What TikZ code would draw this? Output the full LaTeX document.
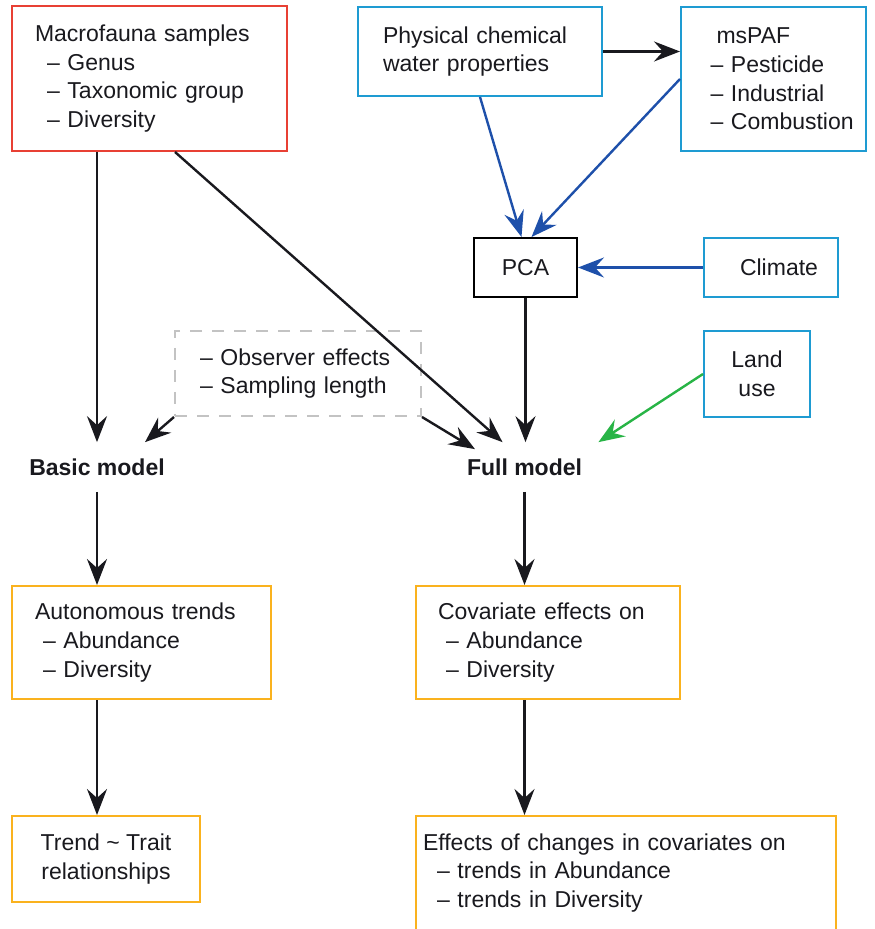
\documentclass[tikz,border=0pt]{standalone}
\usepackage{fontspec}
\setmainfont{Liberation Sans}
\usetikzlibrary{arrows.meta}

\definecolor{boxred}{RGB}{232,64,52}
\definecolor{boxblue}{RGB}{30,155,210}
\definecolor{arrowblue}{RGB}{30,80,170}
\definecolor{boxorange}{RGB}{250,178,30}
\definecolor{arrowgreen}{RGB}{40,180,70}
\definecolor{dashgray}{RGB}{195,195,195}
\definecolor{inkgray}{RGB}{25,25,30}

\newcommand{\dashitem}{\hspace*{6pt}-- }
\newcommand{\pafitem}{\hspace*{9.5pt}}

\tikzset{
	box/.style={draw, line width=1pt, align=left, inner sep=0pt, text=inkgray,
		font=\fontsize{11.5}{14.3}\selectfont},
	model/.style={inner sep=8pt, text=inkgray, font=\fontsize{11.5}{14.3}\selectfont\bfseries},
	flow/.style={->, line width=1.2pt, draw=inkgray},
}

\begin{document}
\begin{tikzpicture}[x=0.5pt, y=-0.5pt, >={Stealth[length=13pt, width=10pt, inset=4.5pt]}]
	\useasboundingbox (0,0) rectangle (874,929);
	
	% Eingangsdaten
	\node[box, draw=boxred, text width=114.5pt, inner xsep=11.5pt, minimum height=72.5pt] (macro) at (149.5,78.5)
		{Macrofauna samples\\ \dashitem Genus\\ \dashitem Taxonomic group\\ \dashitem Diversity};
	\node[box, draw=boxblue, text width=97pt, inner xsep=12.5pt, minimum height=44.5pt] (phys) at (480,51.5)
		{Physical chemical\\water properties};
	\node[box, draw=boxblue, text width=82pt, minimum width=92.5pt, minimum height=72pt] (mspaf) at (773.5,79)
		{\pafitem\hspace*{3pt}msPAF\\ \pafitem-- Pesticide\\ \pafitem-- Industrial\\ \pafitem-- Combustion};
	\node[box, draw=black, align=center, minimum width=51.5pt, minimum height=29.5pt] (pca) at (525.5,267.5) {PCA};
	\node[box, draw=boxblue, align=center, minimum width=67pt, minimum height=29.5pt] (climate) at (771,267.5)
		{\hspace*{8pt}Climate};
	\node[box, draw=boxblue, align=center, minimum width=53pt, minimum height=43pt] (land) at (757,374)
		{Land\\use};
	\node[box, draw=dashgray, dashed, dash pattern=on 6pt off 5pt, text width=98pt, inner xsep=12.5pt, minimum height=42.5pt] (nuis) at (298,373.5)
		{-- Observer effects\\-- Sampling length};
	
	% Modelle
	\node[model] (basic) at (97,467) {Basic model};
	\node[model] (full) at (524.5,467) {Full model};
	
	% Ergebnisse
	\node[box, draw=boxorange, text width=106.5pt, inner xsep=11.5pt, minimum height=56.5pt] (auto) at (141.5,642.5)
		{Autonomous trends\\ \hspace*{4pt}-- Abundance\\ \hspace*{4pt}-- Diversity};
	\node[box, draw=boxorange, text width=110pt, inner xsep=11pt, minimum height=56.5pt] (cov) at (548,642.5)
		{Covariate effects on\\ \hspace*{4pt}-- Abundance\\ \hspace*{4pt}-- Diversity};
	\node[box, draw=boxorange, align=center, minimum width=94pt, minimum height=43pt] (trait) at (106,859)
		{Trend \textasciitilde{} Trait\\relationships};
	\node[box, draw=boxorange, text width=203pt, inner xsep=3.5pt, minimum height=57pt] (eff) at (626,873)
		{Effects of changes in covariates on\\ \hspace*{7pt}-- trends in Abundance\\ \hspace*{7pt}-- trends in Diversity};
	
	% Pfeile
	\draw[flow] (phys.east) -- (phys.east -| mspaf.west);
	\draw[flow, draw=arrowblue] (phys.south) -- ([xshift=-2pt]pca.north);
	\draw[flow, draw=arrowblue] (mspaf.west) -- ([xshift=3pt]pca.north);
	\draw[flow, draw=arrowblue] (climate.west) -- (pca.east);
	\draw[flow] (macro.south -| basic.north) -- (basic.north);
	\draw[flow] ([xshift=12.75pt]macro.south) -- ([xshift=-11pt]full.north);
	\draw[flow] (nuis.south west) -- ([xshift=24pt]basic.north);
	\draw[flow] (nuis.south east) -- ([xshift=-24.75pt, yshift=-3.5pt]full.north);
	\draw[flow] (pca.south) -- (pca.south |- full.north);
	\draw[flow, draw=arrowgreen] (land.west) -- (full.north east);
	\draw[flow] (basic.south) -- (basic.south |- auto.north);
	\draw[flow] (full.south) -- (full.south |- cov.north);
	\draw[flow] (basic.south |- auto.south) -- (basic.south |- trait.north);
	\draw[flow] (full.south |- cov.south) -- (full.south |- eff.north);
\end{tikzpicture}
\end{document}
